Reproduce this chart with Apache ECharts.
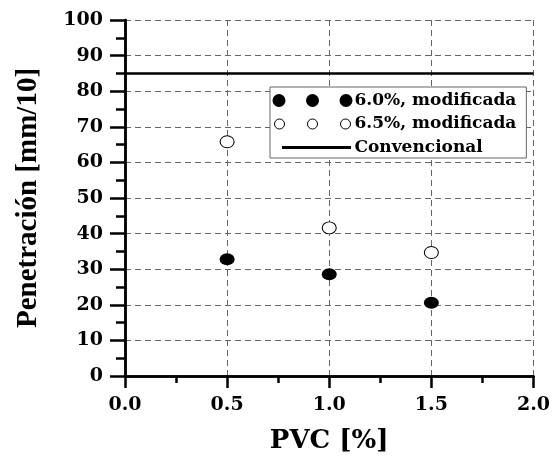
<!DOCTYPE html>
<html><head><meta charset="utf-8">
<script src="https://cdn.jsdelivr.net/npm/echarts@6/dist/echarts.min.js"></script>
<style>html,body{margin:0;padding:0;background:#fff}#c{width:553px;height:463px}</style>
</head><body><div id="c"></div>
<script>
var xTicks = [0, 0.5, 1.0, 1.5, 2.0];
var pvc = [0.5, 1.0, 1.5];
var mod60 = [32.8, 28.6, 20.6];
var mod65 = [65.8, 41.6, 34.7];
var convX = [0, 2];
var convY = [85, 85];
var names = ['6.0%, modificada', '6.5%, modificada', 'Convencional'];

var serif = '"Liberation Serif","Times New Roman",serif';
var wide = '"DejaVu Serif",serif';
function pairs(xs, ys){ return xs.map(function(x,i){ return [x, ys[i]]; }); }
var corners = 'M0,0 M80,13 ';
var filled3 = 'path://' + corners + 'M6.5,0A6.5,6.5 0 1,1 6.5,13A6.5,6.5 0 1,1 6.5,0Z M40,0A6.5,6.5 0 1,1 40,13A6.5,6.5 0 1,1 40,0Z M73.5,0A6.5,6.5 0 1,1 73.5,13A6.5,6.5 0 1,1 73.5,0Z';
var open3 = 'path://' + corners + 'M7,1.5A5,5 0 1,1 7,11.5A5,5 0 1,1 7,1.5Z M40,1.5A5,5 0 1,1 40,11.5A5,5 0 1,1 40,1.5Z M73,1.5A5,5 0 1,1 73,11.5A5,5 0 1,1 73,1.5Z';
var line1 = 'path://' + corners + 'M9.5,5L78.5,5L78.5,8L9.5,8Z';
var chart = echarts.init(document.getElementById('c'));
var axisLine = {show:true, lineStyle:{color:'#000', width:2.5}};
var split = {show:true, lineStyle:{color:'#666', type:[6,4], width:1}};
chart.setOption({
  animation:false,
  backgroundColor:'#fff',
  grid:{left:125, right:16, top:20, bottom:87, containLabel:false},
  legend:{
    left:270, top:87, orient:'vertical', itemGap:6.5,
    itemWidth:80, itemHeight:13,
    backgroundColor:'#fff', borderColor:'#666', borderWidth:1,
    padding:[5,10,2,2],
    textStyle:{fontFamily:wide, fontWeight:'bold', fontSize:17, lineHeight:17, color:'#000', padding:[0,0,0,-3]},
    data:[
      {name:names[0], icon:filled3, itemStyle:{color:'#000', borderWidth:0, opacity:1}},
      {name:names[1], icon:open3, itemStyle:{color:'#fff', borderColor:'#000', borderWidth:1, opacity:1}},
      {name:names[2], icon:line1, itemStyle:{color:'#000', borderWidth:0, opacity:1}}
    ]
  },
  xAxis:[{
    type:'value', min:0, max:2, interval:0.5,
    axisLine:axisLine,
    axisTick:{show:true, length:12, lineStyle:{color:'#000', width:2.5}},
    minorTick:{show:true, splitNumber:2, length:7, lineStyle:{color:'#000', width:2.5}},
    axisLabel:{fontFamily:wide, fontWeight:'bold', fontSize:19, color:'#000', margin:20,
      formatter:function(v){ return v.toFixed(1); }},
    splitLine:split,
    name:'PVC [%]', nameLocation:'middle', nameGap:52,
    nameTextStyle:{fontFamily:wide, fontWeight:'bold', fontSize:26, color:'#000'}
  },{
    type:'value', min:0, max:2, interval:0.5, position:'top',
    axisLine:axisLine, axisTick:{show:false}, axisLabel:{show:false}, splitLine:{show:false}
  }],
  yAxis:[{
    type:'value', min:0, max:100, interval:10,
    axisLine:axisLine,
    axisTick:{show:true, length:15, lineStyle:{color:'#000', width:2.5}},
    minorTick:{show:true, splitNumber:2, length:9, lineStyle:{color:'#000', width:2.5}},
    axisLabel:{fontFamily:wide, fontWeight:'bold', fontSize:19, color:'#000', margin:22},
    splitLine:split,
    name:'Penetración [mm/10]', nameLocation:'middle', nameGap:82,
    nameTextStyle:{fontFamily:serif, fontWeight:'bold', fontSize:29, color:'#000'}
  },{
    type:'value', min:0, max:100, interval:10, position:'right',
    axisLine:axisLine, axisTick:{show:false}, axisLabel:{show:false}, splitLine:{show:false}
  }],
  series:[
    {name:names[0], type:'scatter', data:pairs(pvc, mod60), symbol:'circle', symbolSize:[15,12],
      itemStyle:{color:'#000', opacity:1}, z:5},
    {name:names[1], type:'scatter', data:pairs(pvc, mod65), symbol:'circle', symbolSize:[14,12],
      itemStyle:{color:'#fff', borderColor:'#000', borderWidth:1, opacity:1}, z:5},
    {name:names[2], type:'line', data:pairs(convX, convY), symbol:'none',
      lineStyle:{color:'#000', width:2.5}, z:4}
  ]
});
</script></body></html>
